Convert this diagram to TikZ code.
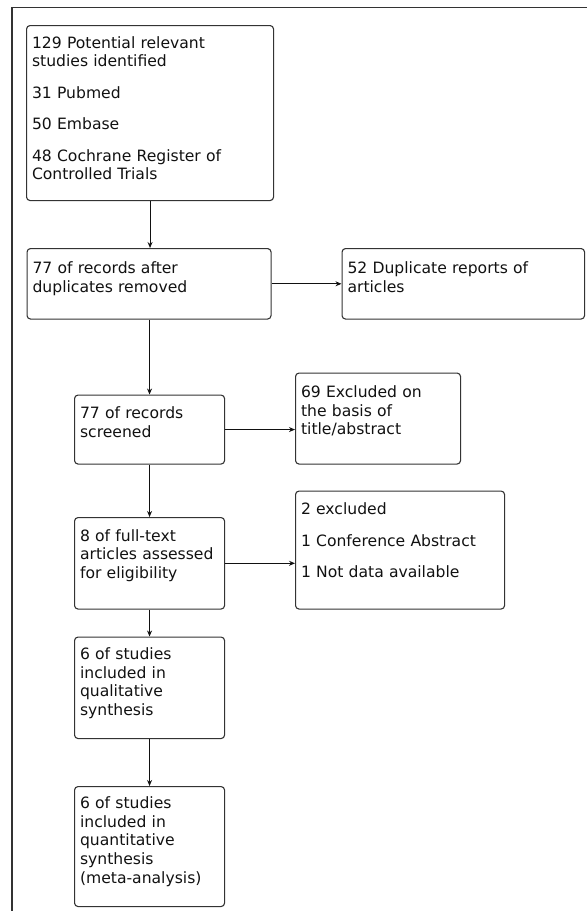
\documentclass[tikz,border=0pt]{standalone}
\usepackage{fontspec}
\setmainfont{DejaVu Sans}
\usetikzlibrary{arrows.meta}
\definecolor{flowink}{HTML}{111111}
\definecolor{flowedge}{HTML}{333333}

\begin{document}
\begin{tikzpicture}[x=1pt, y=-1pt, >={Stealth[length=6pt,width=5pt]},
                    every node/.style={flowink, font=\fontsize{15.6}{18.7}\selectfont},
                    stage/.style={draw=flowedge, line width=1.1pt, rounded corners=3.5pt,
                                  anchor=north west, align=left, inner xsep=5.5pt,
                                  inner ysep=0pt, text height=23.5pt},
                    link/.style={flowink, line width=1.1pt, ->}]

  \useasboundingbox (0,0) rectangle (587,911);

  %% outer frame: only its top and left edges are in view
  \draw[flowedge, line width=1.8pt] (12,911) -- (12,7.5) -- (587,7.5);

  %% identification
  \node[stage, text width=236pt, text height=22.5pt, text depth=152.5pt] (ident) at (26,25)
    {129 Potential relevant\\studies identified\\[12.8pt]31 Pubmed\\[12.8pt]50 Embase\\[12.8pt]48 Cochrane Register of\\Controlled Trials};

  %% duplicates
  \node[stage, text width=233pt, text height=25pt, text depth=45.5pt] (dedup) at (26.5,248)
    {77 of records after\\duplicates removed};
  \node[stage, text width=231.5pt, text height=25pt, text depth=45.5pt] (dupl) at (341.5,248)
    {52 Duplicate reports of\\articles};

  %% screening
  \node[stage, text width=139pt, text depth=45.5pt] (screen) at (74,394.5)
    {77 of records\\screened};
  \node[stage, text width=154pt, text height=24.5pt, text depth=66.5pt] (excl) at (295,372.5)
    {69 Excluded on\\the basis of\\title/abstract};

  %% eligibility
  \node[stage, text width=139pt, text depth=68pt] (fulltext) at (74,517)
    {8 of full-text\\articles assessed\\for eligibility};
  \node[stage, text width=198pt, text depth=94.5pt] (excl2) at (295,490.5)
    {2 excluded\\[12.8pt]1 Conference Abstract\\[12.8pt]1 Not data available};

  %% included
  \node[stage, text width=139pt, text height=22.5pt, text depth=79pt] (qual) at (74,636.5)
    {6 of studies\\included in\\qualitative\\synthesis};
  \node[stage, text width=139pt, text height=22pt, text depth=98pt] (quant) at (74,786)
    {6 of studies\\included in\\quantitative\\synthesis\\(meta-analysis)};

  %% connectors
  \draw[link] (ident.south) -- (ident.south |- dedup.north);
  \draw[link] (dedup.east) -- (dupl.west);
  \draw[link] (screen.north |- dedup.south) -- (screen.north);
  \draw[link] (screen.east) -- (screen.east -| excl.west);
  \draw[link] (screen.south) -- (fulltext.north);
  \draw[link] (fulltext.east) -- (fulltext.east -| excl2.west);
  \draw[link] (fulltext.south) -- (qual.north);
  \draw[link] (qual.south) -- (quant.north);

\end{tikzpicture}
\end{document}
